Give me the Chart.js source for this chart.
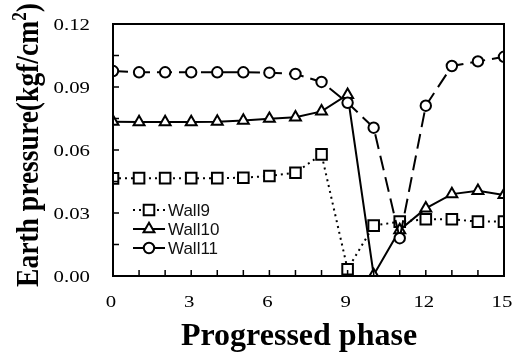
<!DOCTYPE html>
<html>
<head>
<meta charset="utf-8">
<script src="https://cdn.jsdelivr.net/npm/chart.js@4"></script>
<style>
html,body{margin:0;padding:0;background:#fff;}
#wrap{width:518px;height:353px;position:relative;}
</style>
</head>
<body>
<div id="wrap"><canvas id="c" width="518" height="353"></canvas></div>
<script>
// ---- data ----
const phases = [0,1,2,3,4,5,6,7,8,9,10,11,12,13,14,15];
const wall9  = [0.0465,0.0466,0.0466,0.0466,0.0466,0.0468,0.0476,0.0492,0.0579,0.0032,0.0240,0.0259,0.0270,0.0270,0.0259,0.0259];
const wall10 = [0.0735,0.0733,0.0733,0.0733,0.0735,0.0740,0.0749,0.0756,0.0784,0.0863,0.0005,0.0219,0.0322,0.0390,0.0406,0.0386];
const wall11 = [0.0976,0.0970,0.0970,0.0970,0.0970,0.0970,0.0968,0.0962,0.0924,0.0825,0.0706,0.0180,0.0811,0.1000,0.1022,0.1044];
const seriesNames = ['Wall9','Wall10','Wall11'];
const xTickLabels = ['0','3','6','9','12','15'];
const yTickLabels = ['0.00','0.03','0.06','0.09','0.12'];
const xTitle = 'Progressed phase';
const yTitle = ['Earth pressure(kgf/cm','2',')'];

const toXY = arr => arr.map((v,i)=>({x:phases[i], y:v}));

const styles = [
  {pointStyle:'rect', radius:7.5, dash:[2,4]},
  {pointStyle:'triangle', radius:6.3, dash:[]},
  {pointStyle:'circle', radius:5.2, dash:[15,7]}
];
const seriesData = [wall9, wall10, wall11];

const datasets = seriesData.map((d,i)=>({
  label: seriesNames[i],
  data: toXY(d),
  borderColor:'#000',
  borderWidth:2,
  borderDash: styles[i].dash,
  pointStyle: styles[i].pointStyle,
  pointRadius: styles[i].radius,
  pointBorderWidth:2,
  pointBackgroundColor:'#fff',
  pointBorderColor:'#000',
  tension:0,
  fill:false,
  order: 2-i
}));

const TICK_FONT = '16px "Liberation Serif", "Times New Roman", serif';
const STRETCH = 1.3;

const decor = {
  id:'decor',
  afterDatasetsDraw(chart){
    const ctx = chart.ctx, a = chart.chartArea;
    const xs = chart.scales.x, ys = chart.scales.y;
    ctx.save();
    ctx.strokeStyle='#000'; ctx.lineWidth=2; ctx.setLineDash([]);
    ctx.strokeRect(a.left, a.top, a.right-a.left, a.bottom-a.top);
    // inward ticks
    ctx.lineWidth=1.5;
    ctx.beginPath();
    xs.ticks.forEach(t=>{const px=xs.getPixelForValue(t.value); ctx.moveTo(px,a.bottom); ctx.lineTo(px,a.bottom-6);});
    ys.ticks.forEach(t=>{const py=ys.getPixelForValue(t.value); ctx.moveTo(a.left,py); ctx.lineTo(a.left+6,py);});
    ctx.stroke();

    // tick labels (horizontally stretched serif, as in the reference)
    ctx.fillStyle='#000';
    ctx.font=TICK_FONT;
    ctx.textBaseline='alphabetic';
    xTickLabels.forEach(lbl=>{
      const px = xs.getPixelForValue(Number(lbl)) - 2;
      ctx.save(); ctx.translate(px, 306.5); ctx.scale(STRETCH,1);
      ctx.textAlign='center'; ctx.fillText(lbl,0,0); ctx.restore();
    });
    yTickLabels.forEach(lbl=>{
      const py = ys.getPixelForValue(Number(lbl));
      ctx.save(); ctx.translate(90, py+6); ctx.scale(STRETCH,1);
      ctx.textAlign='right'; ctx.fillText(lbl,0,0); ctx.restore();
    });

    // legend
    const rows=[210,229,248];
    const lx0=133, lx1=165, mx=149, tx=168;
    ctx.font='17px "Liberation Sans", Arial, sans-serif';
    ctx.textBaseline='middle'; ctx.textAlign='left';
    chart.data.datasets.forEach((ds,i)=>{
      const y=rows[i];
      ctx.save();
      ctx.strokeStyle='#000'; ctx.lineWidth=2;
      ctx.setLineDash(ds.borderDash||[]);
      if(i===2){ctx.lineDashOffset=5;}
      ctx.beginPath(); ctx.moveTo(lx0,y); ctx.lineTo(lx1,y); ctx.stroke();
      ctx.restore();
      ctx.save();
      ctx.lineWidth=2; ctx.strokeStyle='#000'; ctx.fillStyle='#fff';
      Chart.helpers.drawPoint(ctx,{pointStyle:ds.pointStyle, radius:ds.pointRadius, borderWidth:2, rotation:0}, mx, y);
      ctx.restore();
      ctx.fillStyle='#111';
      ctx.fillText(ds.label, tx, y+1);
    });

    // axis titles
    ctx.fillStyle='#000';
    ctx.font='bold 32px "Liberation Serif", "Times New Roman", serif';
    ctx.textAlign='center'; ctx.textBaseline='alphabetic';
    ctx.fillText(xTitle, 299, 345, 242);

    ctx.save();
    ctx.translate(38,145);
    ctx.rotate(-Math.PI/2);
    const bigF='bold 32px "Liberation Serif", "Times New Roman", serif';
    const smallF='bold 20px "Liberation Serif", "Times New Roman", serif';
    ctx.font=bigF; const w1=ctx.measureText(yTitle[0]).width; const w3=ctx.measureText(yTitle[2]).width;
    ctx.font=smallF; const w2=ctx.measureText(yTitle[1]).width;
    const W=w1+w2+w3;
    const s=Math.min(1,284/W);
    ctx.scale(s,1);
    ctx.textAlign='left';
    let x=-W/2;
    ctx.font=bigF; ctx.fillText(yTitle[0],x,0); x+=w1;
    ctx.font=smallF; ctx.fillText(yTitle[1],x,-12); x+=w2;
    ctx.font=bigF; ctx.fillText(yTitle[2],x,0);
    ctx.restore();
    ctx.restore();
  }
};

new Chart(document.getElementById('c'),{
  type:'line',
  data:{datasets},
  options:{
    responsive:false,
    animation:false,
    events:[],
    layout:{padding:{left:0,right:14,top:24,bottom:0}},
    plugins:{legend:{display:false},tooltip:{enabled:false},title:{display:false}},
    scales:{
      x:{
        type:'linear', min:0, max:15,
        afterBuildTicks(s){s.ticks=phases.map(v=>({value:v}));},
        ticks:{display:false, autoSkip:false, maxRotation:0},
        grid:{display:false, drawTicks:false},
        border:{display:false},
        afterFit(s){s.height=77;}
      },
      y:{
        type:'linear', min:0, max:0.12,
        afterBuildTicks(s){const t=[]; for(let i=0;i<=8;i++) t.push({value:i*0.015}); s.ticks=t;},
        ticks:{display:false, autoSkip:false},
        grid:{display:false, drawTicks:false},
        border:{display:false},
        afterFit(s){s.width=113;}
      }
    }
  },
  plugins:[decor]
});
</script>
</body>
</html>
